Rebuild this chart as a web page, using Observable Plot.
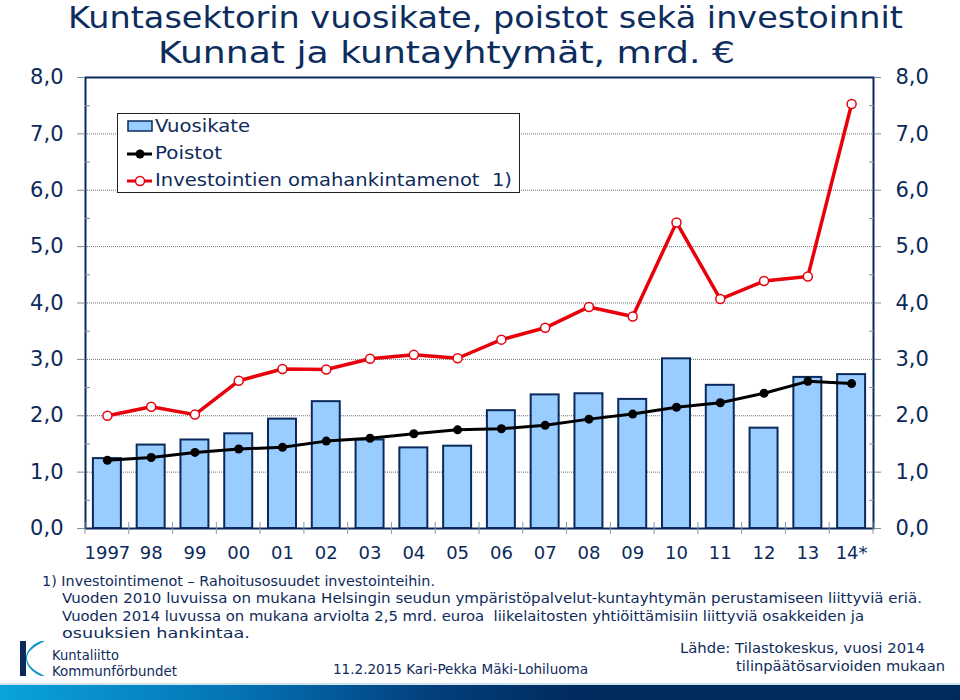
<!DOCTYPE html>
<html><head><meta charset="utf-8">
<script src="https://cdn.jsdelivr.net/npm/d3@7"></script>
<script src="https://cdn.jsdelivr.net/npm/@observablehq/plot@0.6"></script>
<style>
body{margin:0;background:#fff;}
#page{position:relative;width:960px;height:700px;overflow:hidden;background:#fff;font-family:"DejaVu Sans",Verdana,sans-serif;color:#0f2b5b;}
.t{position:absolute;white-space:pre;line-height:1;transform-origin:0 50%;}
.title{font-family:"DejaVu Sans",Verdana,sans-serif;font-size:31px;color:#0d2d5e;}
.foot{font-size:14px;}
#chart{position:absolute;left:0;top:62px;}
#legend{position:absolute;left:117px;top:113px;width:403px;height:80px;border:1px solid #222;background:#fff;box-sizing:border-box;}
#legend .t{font-size:18px;}
#bar{position:absolute;left:0;top:685px;width:960px;height:15px;background:linear-gradient(to right,#0aa3dc 0%,#0572b4 25%,#023f7c 45%,#002b5e 60%,#002a5a 100%);}
#barline{position:absolute;left:0;top:683px;width:960px;height:2px;background:#cfe3ee;}
</style></head><body>
<div id="page">
  <div id="chart"></div>
  <span class="t title" data-w="835" style="left:68px;top:2px;">Kuntasektorin vuosikate, poistot sekä investoinnit</span>
  <span class="t title" data-w="577" style="left:158px;top:37px;">Kunnat ja kuntayhtymät, mrd. €</span>
  <div id="legend">
    <svg style="position:absolute;left:0;top:0" width="40" height="80">
      <rect x="10" y="7" width="24" height="10" fill="#99ccff" stroke="#0b2a5b" stroke-width="1.5"/>
      <line x1="9" x2="34" y1="40" y2="40" stroke="black" stroke-width="3"/>
      <circle cx="22" cy="40" r="4.5" fill="black"/>
      <line x1="9" x2="34" y1="67" y2="67" stroke="#e8000b" stroke-width="3"/>
      <circle cx="22" cy="67" r="4.5" fill="white" stroke="#e8000b" stroke-width="1.5"/>
    </svg>
    <span class="t" data-w="95" style="left:37px;top:3px;">Vuosikate</span>
    <span class="t" data-w="67" style="left:37px;top:30px;">Poistot</span>
    <span class="t" data-w="357" style="left:37px;top:57px;">Investointien omahankintamenot  1)</span>
  </div>
  <span class="t foot" data-w="393" style="left:42px;top:574px;">1) Investointimenot – Rahoitusosuudet investointeihin.</span>
  <span class="t foot" data-w="860" style="left:62px;top:591px;">Vuoden 2010 luvuissa on mukana Helsingin seudun ympäristöpalvelut-kuntayhtymän perustamiseen liittyviä eriä.</span>
  <span class="t foot" data-w="802" style="left:62px;top:609px;">Vuoden 2014 luvussa on mukana arviolta 2,5 mrd. euroa  liikelaitosten yhtiöittämisiin liittyviä osakkeiden ja</span>
  <span class="t foot" data-w="188" style="left:62px;top:626px;">osuuksien hankintaa.</span>
  <svg style="position:absolute;left:14px;top:638px" width="36" height="42">
    <rect x="6" y="3" width="6" height="35" fill="#0b2a5b"/>
    <path d="M31,3 C20,8 13,14 13,20 C13,27 20,33 31,38 L27,38 C18,34 12,28 12,20 C12,12 19,6 27,3 Z" fill="#1195c8"/>
  </svg>
  <span class="t foot" data-w="67" style="left:52px;top:648px;">Kuntaliitto</span>
  <span class="t foot" data-w="125" style="left:52px;top:664px;">Kommunförbundet</span>
  <span class="t foot" data-w="255" style="left:333px;top:662px;">11.2.2015 Kari-Pekka Mäki-Lohiluoma</span>
  <span class="t foot" data-w="245" style="left:680px;top:641px;">Lähde: Tilastokeskus, vuosi 2014</span>
  <span class="t foot" data-w="209" style="left:736px;top:659px;">tilinpäätösarvioiden mukaan</span>
  <div id="barline"></div>
  <div id="bar"></div>
</div>
<script>
// ---- data ----
const years = ["1997","98","99","00","01","02","03","04","05","06","07","08","09","10","11","12","13","14*"];
const vuosikate = [1.24,1.48,1.57,1.68,1.94,2.25,1.57,1.43,1.46,2.09,2.37,2.39,2.29,3.01,2.54,1.78,2.68,2.73];
const poistot = [1.21,1.26,1.35,1.41,1.44,1.55,1.60,1.68,1.75,1.77,1.83,1.94,2.03,2.15,2.23,2.40,2.61,2.57];
const investoinnit = [2.00,2.16,2.02,2.62,2.83,2.82,3.01,3.08,3.02,3.35,3.56,3.93,3.76,5.43,4.07,4.39,4.47,7.53];
const yTicks = [0,1,2,3,4,5,6,7,8];
const gridTicks = [1,2,3,4,5,6,7];
const minorTicks = [0.5,1.5,2.5,3.5,4.5,5.5,6.5,7.5];

const navy = "#0b2a5b";
const red = "#e8000b";
const data = years.map((y,i)=>({year:y, v:vuosikate[i], p:poistot[i], inv:investoinnit[i]}));
const fmt = d => d.toFixed(1).replace(".", ",");

const boundaryTicks = (index, scales) => {
  const x = scales.x, y = scales.y;
  const step = x(years[1]) - x(years[0]);
  const g = d3.create("svg:g").attr("stroke-width", 1);
  const xs = years.map(d => x(d));
  xs.push(x(years[years.length-1]) + step);
  for (const xx of xs) {
    g.append("line").attr("x1", xx).attr("x2", xx).attr("y1", y(0) - 6).attr("y2", y(0) + 6).attr("stroke", "#8a97aa");
  }
  return g.node();
};

const chart = Plot.plot({
  width: 960, height: 505,
  marginLeft: 85, marginRight: 87, marginTop: 15, marginBottom: 39,
  x: {domain: years, padding: 0, round: false},
  y: {domain: [0, 8]},
  style: {fontFamily: "DejaVu Sans, Verdana, sans-serif", color: navy, background: "transparent", overflow: "visible"},
  marks: [
    Plot.ruleY(gridTicks, {stroke: "#6f6f6f", strokeDasharray: "1,1", strokeWidth: 1}),
    Plot.barY(data, {x: "year", y: "v", fill: "#99ccff", stroke: navy, strokeWidth: 2, insetLeft: 7.9, insetRight: 7.9}),
    Plot.line(data, {x: "year", y: "p", stroke: "black", strokeWidth: 3}),
    Plot.dot(data, {x: "year", y: "p", r: 4.5, fill: "black"}),
    Plot.line(data, {x: "year", y: "inv", stroke: red, strokeWidth: 3.5}),
    Plot.dot(data, {x: "year", y: "inv", r: 4.5, fill: "white", stroke: red, strokeWidth: 1.5}),
    Plot.frame({stroke: navy, strokeWidth: 2}),
    Plot.axisY({ticks: yTicks, anchor: "left", tickSize: 8, tickPadding: 14, tickFormat: fmt, fontSize: 21, label: null, stroke: "#7d8aa0"}),
    Plot.axisY({ticks: yTicks, anchor: "right", tickSize: 7, tickPadding: 15, tickFormat: fmt, fontSize: 21, label: null, stroke: "#7d8aa0"}),
    Plot.axisY({ticks: minorTicks, anchor: "left", tickSize: -5, tickFormat: () => "", label: null, stroke: "#7d8aa0"}),
    Plot.axisY({ticks: minorTicks, anchor: "right", tickSize: -5, tickFormat: () => "", label: null, stroke: "#7d8aa0"}),
    Plot.axisX({tickSize: 0, tickPadding: 18, fontSize: 18, label: null}),
    boundaryTicks
  ]
});
document.getElementById("chart").appendChild(chart);

// fit text widths
document.querySelectorAll(".t[data-w]").forEach(el => {
  const w = el.getBoundingClientRect().width;
  const target = +el.dataset.w;
  if (w > 0) el.style.transform = `scaleX(${target / w})`;
});
</script>
</body></html>
